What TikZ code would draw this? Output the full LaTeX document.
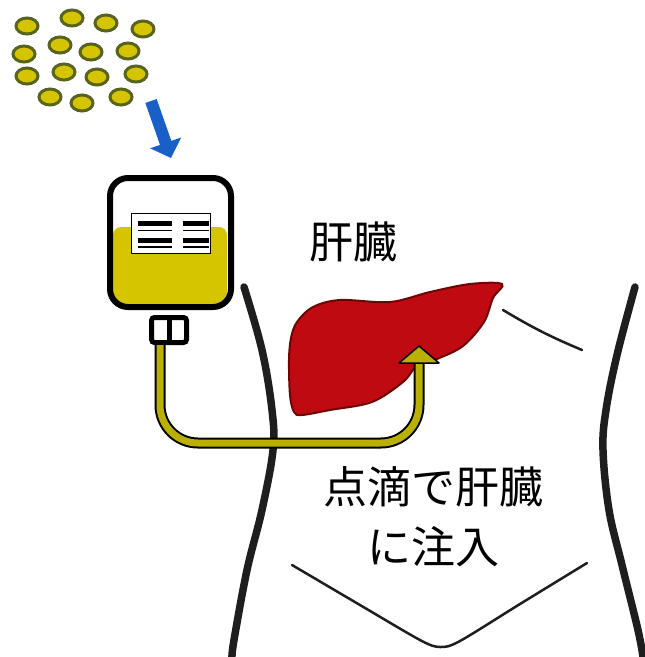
\documentclass[tikz,border=0pt]{standalone}
\usepackage{fontspec}
\newfontfamily\jpfont{Noto Sans CJK JP}
\usetikzlibrary{arrows.meta,shapes.geometric}

\definecolor{drug}{RGB}{213,197,0}
\definecolor{drugedge}{RGB}{88,100,28}
\definecolor{tubeline}{RGB}{186,176,0}
\definecolor{liverred}{RGB}{192,10,18}
\definecolor{liveredge}{RGB}{110,5,5}
\definecolor{dropblue}{RGB}{25,95,200}
\definecolor{skin}{RGB}{30,30,30}

\begin{document}
\begin{tikzpicture}[x=1pt,y=-1pt,
  particle/.style={ellipse,draw=drugedge,fill=drug,line width=3pt,minimum width=22pt,minimum height=16pt,inner sep=0pt},
  jptext/.style={font=\jpfont\fontsize{44}{60}\selectfont,align=center,inner sep=0pt},
  outline/.style={draw=skin,line width=7.5pt,line cap=round},
  crease/.style={draw=skin,line width=2.5pt,line cap=round}]
  \useasboundingbox (0,0) rectangle (645,657);

  % drug particles
  \foreach \n/\x/\y in {1/27/26,2/72/18,3/106/23,4/143/29,5/24/54,6/60/45,7/91/52,8/128/51,
                        9/27/76,10/64/72,11/97/77,12/136/74,13/50/97,14/82/103,15/121/97}
    \node[particle] (p\n) at (\x,\y) {};

  % into the bag
  \coordinate (drop top) at (151,101);
  \coordinate (drop tip) at (171,158);
  \draw[dropblue,line width=12pt,-{Triangle[width=32pt,length=16pt]}] (drop top) -- (drop tip);

  % body
  \draw[outline] plot[smooth,tension=0.6] coordinates {(244,287) (262,350) (272,410) (273,450) (262,510) (247,570) (234,640) (232,657)};
  \draw[outline] plot[smooth,tension=0.6] coordinates {(635,287) (617,355) (606,410) (603,450) (609,510) (622,565) (638,630) (643,657)};
  \draw[crease] (503,310) to[bend right=4] (582,350);
  \draw[crease] plot[smooth,tension=0.5] coordinates {(292,565) (360,605) (420,640) (440,647) (460,641) (520,604) (587,563)};

  % liver
  \filldraw[fill=liverred,draw=liveredge,line width=2pt] plot[smooth cycle,tension=0.55] coordinates {
    (297,322) (313,307) (340,300) (390,302) (430,292) (470,284) (502,284)
    (493,298) (484,322) (463,346) (437,359) (417,366) (403,382) (372,402) (330,410) (302,415)
    (294,412) (290,395) (289,360) (291,338)};
  \node[jptext] (organ) at (353,242) {肝臓};

  % drip bag
  \fill[drug,rounded corners=8pt] (113,227) rectangle (227,306);
  \node[draw,line width=6pt,rounded corners=18pt,minimum width=121pt,minimum height=129pt] (bag) at (170.5,242.5) {};
  \node[draw,fill=white,line width=1.5pt,minimum width=79pt,minimum height=40pt] (tag) at (171,233.5) {};
  \foreach \xa/\xb in {138/172,183/209} {
    \draw[line width=5pt] (\xa,223) -- (\xb,223) (\xa,240) -- (\xb,240);
    \draw[line width=1.8pt] (\xa,230.5) -- (\xb,230.5) (\xa,247) -- (\xb,247);
  }
  \node[draw,line width=5pt,rounded corners=3pt,minimum width=35pt,minimum height=25pt] (port) at (169,330) {};
  \draw[line width=5pt] (port.north) -- (port.south);

  % tube into the liver
  \coordinate (tube in) at (160,345);
  \coordinate (inject) at (419,346);
  \draw[line width=11pt,rounded corners=38pt] (tube in) |- (419,443) -- ([shift={(0,16)}]inject);
  \draw[tubeline,line width=7pt,rounded corners=38pt] (tube in) |- (419,443) -- ([shift={(0,15)}]inject);
  \filldraw[fill=tubeline,draw=black,line width=1.5pt,line join=round] ([shift={(-20,17)}]inject) -- (inject) -- ([shift={(20,17)}]inject) -- cycle;

  \node[jptext] (note) at (433,517) {点滴で肝臓\\に注入};
\end{tikzpicture}
\end{document}
